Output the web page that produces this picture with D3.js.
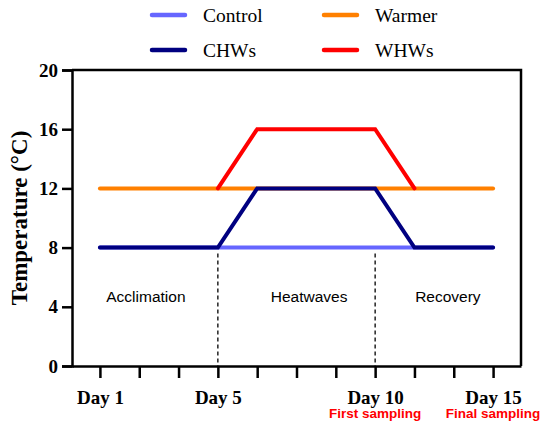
<!DOCTYPE html>
<html>
<head>
<meta charset="utf-8">
<script src="https://cdn.jsdelivr.net/npm/d3@7"></script>
<style>
  body { margin: 0; background: #fff; }
  svg { display: block; }
</style>
</head>
<body>
<div id="chart"></div>
<script>
// x positions are tick slots (0..10) along the day axis
const tickSlots = [0, 1, 2, 3, 4, 5, 6, 7, 8, 9, 10]
const dayLabels = { 0: 'Day 1', 3: 'Day 5', 7: 'Day 10', 10: 'Day 15' }
const samplingLabels = { 7: 'First sampling', 10: 'Final sampling' }
const yTicks = [0, 4, 8, 12, 16, 20]

const controlPts = [[0, 8], [10, 8]]
const warmerPts = [[0, 12], [10, 12]]
const chwsPts = [[0, 8], [3, 8], [4, 12], [7, 12], [8, 8], [10, 8]]
const whwsPts = [[3, 12], [4, 16], [7, 16], [8, 12]]

const phaseNames = ['Acclimation', 'Heatwaves', 'Recovery']
const phaseCenters = [1.17, 5.32, 8.85]
const phaseY = 4.35
const dividerSlots = [3, 7]
const dividerTop = 7.6

const series = [
  { name: 'Control', pts: controlPts, color: '#6666ff' },
  { name: 'Warmer', pts: warmerPts, color: '#ff8000' },
  { name: 'CHWs', pts: chwsPts, color: '#000080' },
  { name: 'WHWs', pts: whwsPts, color: '#ff0000' }
]

const width = 550, height = 431
const margin = { top: 70, right: 29, bottom: 65, left: 72 }
const innerW = width - margin.left - margin.right
const innerH = height - margin.top - margin.bottom

const svg = d3.select('#chart').append('svg')
  .attr('width', width)
  .attr('height', height)

const g = svg.append('g')
  .attr('transform', `translate(${margin.left},${margin.top})`)

const x = d3.scaleLinear().domain([-0.71, 10.71]).range([0, innerW])
const y = d3.scaleLinear().domain([0, 20]).range([innerH, 0])

// frame (top + right)
g.append('path')
  .attr('d', `M0,0H${innerW}V${innerH}`)
  .attr('fill', 'none')
  .attr('stroke', '#000')
  .attr('stroke-width', 2.5)

// axes
let axisLeft = g.append('g')
  .call(d3.axisLeft(y).tickValues(yTicks).tickSize(10).tickPadding(4))
axisLeft.select('.domain').attr('stroke-width', 2.5)
axisLeft.selectAll('.tick line').attr('stroke-width', 2.5)
axisLeft.selectAll('text')
  .style('font-family', '"Liberation Serif", "Times New Roman", serif')
  .style('font-weight', 'bold')
  .style('font-size', '19px')

let axisBottom = g.append('g')
  .attr('transform', `translate(0,${innerH})`)
  .call(d3.axisBottom(x).tickValues(tickSlots).tickSize(12).tickSizeOuter(0).tickFormat(d => dayLabels[d] || ''))
axisBottom.select('.domain').attr('stroke-width', 2.5)
axisBottom.selectAll('.tick line').attr('stroke-width', 2.5)
axisBottom.selectAll('text')
  .attr('dy', '1.2em')
  .style('font-family', '"Liberation Serif", "Times New Roman", serif')
  .style('font-weight', 'bold')
  .style('font-size', '19px')

axisBottom.selectAll('.sampling')
  .data(Object.keys(samplingLabels).map(Number))
  .enter()
  .append('text')
    .attr('class', 'sampling')
    .attr('x', d => x(d))
    .attr('y', 52)
    .attr('text-anchor', 'middle')
    .attr('fill', '#ff0000')
    .style('font-family', '"Liberation Sans", Arial, sans-serif')
    .style('font-weight', 'bold')
    .style('font-size', '13.5px')
    .text(d => samplingLabels[d])

// y label
svg.append('text')
  .attr('transform', `translate(27,${margin.top + innerH / 2}) rotate(-90)`)
  .attr('text-anchor', 'middle')
  .style('font-family', '"Liberation Serif", "Times New Roman", serif')
  .style('font-weight', 'bold')
  .style('font-size', '23px')
  .text('Temperature (°C)')

// phase dividers
g.selectAll('.divider')
  .data(dividerSlots)
  .enter()
  .append('line')
    .attr('x1', d => x(d)).attr('x2', d => x(d))
    .attr('y1', y(dividerTop)).attr('y2', innerH)
    .attr('stroke', '#000')
    .attr('stroke-width', 1.3)
    .attr('stroke-dasharray', '4,3')

g.selectAll('.phase')
  .data(phaseNames)
  .enter()
  .append('text')
    .attr('x', (d, i) => x(phaseCenters[i]))
    .attr('y', y(phaseY))
    .attr('text-anchor', 'middle')
    .style('font-family', '"Liberation Sans", Arial, sans-serif')
    .style('font-size', '15.5px')
    .text(d => d)

// temperature lines
const line = d3.line().x(d => x(d[0])).y(d => y(d[1]))

g.selectAll('.series')
  .data(series)
  .enter()
  .append('path')
    .attr('d', d => line(d.pts))
    .attr('fill', 'none')
    .attr('stroke', d => d.color)
    .attr('stroke-width', 4)
    .attr('stroke-linejoin', 'miter')
    .attr('stroke-linecap', 'round')

// legend
const legendPos = [[152, 15], [324, 15], [152, 50], [324, 50]]
const lg = svg.append('g')
  .selectAll('g')
  .data(series)
  .enter()
  .append('g')
    .attr('transform', (d, i) => `translate(${legendPos[i][0]},${legendPos[i][1]})`)

lg.append('line')
  .attr('x1', 0).attr('x2', 33)
  .attr('stroke', d => d.color)
  .attr('stroke-width', 4.5)
  .attr('stroke-linecap', 'round')

lg.append('text')
  .attr('x', 51)
  .attr('dy', '0.35em')
  .style('font-family', '"Liberation Serif", "Times New Roman", serif')
  .style('font-size', '19.5px')
  .text(d => d.name)
</script>
</body>
</html>
